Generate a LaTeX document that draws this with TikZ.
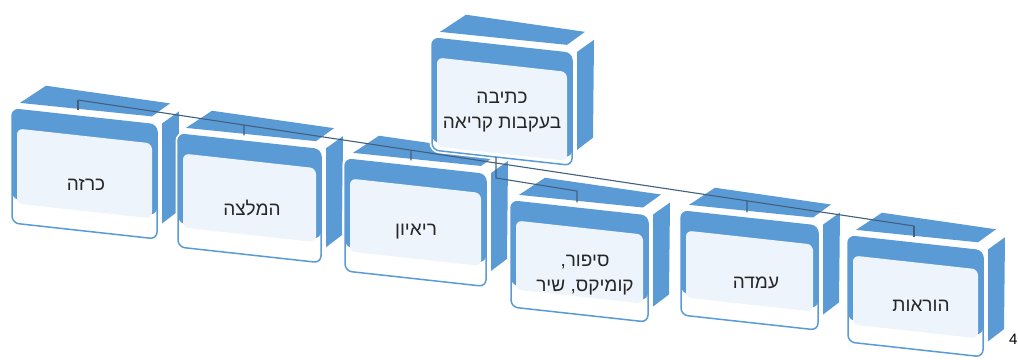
\documentclass[tikz,border=0pt]{standalone}
\usepackage{fontspec}
\usepackage{tikz}
\TeXXeTstate=1
\newfontfamily\hebfont[Script=Hebrew]{Liberation Sans}
\setsansfont{Liberation Sans}
\definecolor{cubeblue}{HTML}{5B9BD5}
\definecolor{cubepanel}{HTML}{EEF4FB}
\definecolor{linkgray}{HTML}{41607E}
\definecolor{textgray}{HTML}{262626}

% #1,#2 = front top-left, #3 = name, #4 = width, #5 = height, #6 = white foot
\newcommand{\cubebox}[6]{%
  \begin{scope}[shift={(#1,#2)}, yslant=-0.11]
    \fill[cubeblue] (8,-7) -- (34,-27) -- ({#4+13},-23) -- ({#4-5},-8) -- cycle;
    \fill[cubeblue] ({#4+5},-2) -- ({#4+22},-16) -- ({#4+21},{#5-30}) -- ({#4+5},{#5-16}) -- cycle;
    \draw[white, line width=5pt, rounded corners=7] (0,0) rectangle (#4,#5);
    \filldraw[fill=white, draw=cubeblue, line width=1.5pt, rounded corners=7] (0,0) rectangle (#4,#5);
    \fill[cubeblue, rounded corners=7] (0,0) rectangle (#4,{#5-#6});
    \fill[cubepanel, rounded corners=6] (5,19) rectangle ({#4-5},{#5-#6+4});
    \coordinate (#3top) at (66,-6);
    \coordinate (#3bot) at (64,#5);
  \end{scope}}

\begin{document}
\begin{tikzpicture}[x=1pt, y=-1pt,
  boxtext/.style={font=\hebfont\fontsize{19}{25}\selectfont, text=textgray, align=center},
  link/.style={draw=linkgray, line width=1.1pt}]
	\useasboundingbox (0,0) rectangle (1018,359);
	\cubebox{12}{109}{poster}{145}{114}{24}
	\cubebox{178}{134}{advice}{143}{113}{24}
	\cubebox{345}{159}{interview}{141}{112}{24}
	\cubebox{511}{201}{story}{137}{106}{22}
	\cubebox{681}{211}{opinion}{137}{104}{22}
	\cubebox{848}{236}{howto}{135}{106}{22}
	\cubebox{432}{38}{root}{140}{112}{8}
	\node[boxtext] (root) at (502,112) {\beginR כתיבה\endR\\\beginR בעקבות קריאה\endR};
	\node[boxtext] (poster) at (86,185) {\beginR כרזה\endR};
	\node[boxtext] (advice) at (252,208) {\beginR המלצה\endR};
	\node[boxtext] (interview) at (416,232) {\beginR ריאיון\endR};
	\node[boxtext] (story) at (585,275) {\beginR סיפור,\endR\\\beginR קומיקס, שיר\endR};
	\node[boxtext] (opinion) at (756,283) {\beginR עמדה\endR};
	\node[boxtext] (howto) at (921,306) {\beginR הוראות\endR};
	\node[font=\sffamily\fontsize{15}{18}\selectfont, anchor=base west, inner sep=0pt] (pagenum) at (1009,344) {4};
	\coordinate (busL) at (78,100);
	\coordinate (busR) at (914,226);
	\coordinate (advup) at (advicetop |- busL);
	\coordinate (intup) at (interviewtop |- busL);
	\coordinate (opiup) at (opiniontop |- busL);
	\coordinate (j1) at (496,178);
	\coordinate (j2) at (577,191);
	\draw [link] (busL) -- (busR);
	\draw [link] (busL) -- (postertop);
	\draw [link] (busR) -- (howtotop);
	\draw [link] (advicetop) -- (intersection of busL--busR and advicetop--advup);
	\draw [link] (interviewtop) -- (intersection of busL--busR and interviewtop--intup);
	\draw [link] (opiniontop) -- (intersection of busL--busR and opiniontop--opiup);
	\draw [link] (rootbot) -- (j1) -- (j2) -- (storytop);
\end{tikzpicture}
\end{document}
